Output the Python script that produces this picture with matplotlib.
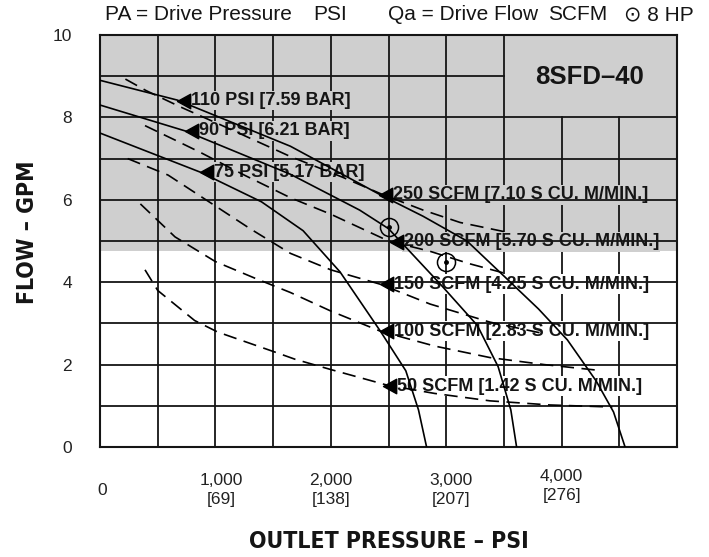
import matplotlib
matplotlib.use("Agg")
import matplotlib.pyplot as plt
from matplotlib import font_manager
from matplotlib.font_manager import FontProperties
from matplotlib.path import Path
from matplotlib.transforms import ScaledTranslation

# drive pressure curves (solid): outlet pressure psi -> flow gpm
p110_psi = [0, 670, 1650, 2430, 2800, 3180, 3500, 3800, 4050, 4300, 4450, 4550]
p110_gpm = [8.9, 8.42, 7.3, 6.12, 5.6, 5.0, 4.15, 3.35, 2.6, 1.6, 0.85, 0]
p90_psi = [0, 740, 1650, 2250, 2500, 2950, 3270, 3450, 3560, 3610]
p90_gpm = [8.3, 7.67, 6.62, 5.75, 5.3, 3.95, 2.95, 1.95, 0.9, 0]
p75_psi = [0, 870, 1400, 1760, 2080, 2430, 2650, 2760, 2830]
p75_gpm = [7.62, 6.67, 5.95, 5.25, 4.25, 2.81, 1.85, 0.9, 0]

# drive air flow curves (dashed)
q250_psi = [220, 400, 700, 1100, 1650, 2100, 2430, 2800, 3120, 3550]
q250_gpm = [8.93, 8.65, 8.25, 7.75, 7.05, 6.55, 6.15, 5.75, 5.45, 5.2]
q200_psi = [390, 650, 870, 1250, 1650, 2000, 2500, 2860, 3200, 3530]
q200_gpm = [7.8, 7.45, 7.15, 6.6, 6.05, 5.65, 5.0, 4.75, 4.45, 4.2]
q150_psi = [240, 590, 1000, 1300, 1650, 2000, 2430, 2860, 3380, 3850]
q150_gpm = [7.0, 6.6, 5.85, 5.3, 4.7, 4.3, 3.95, 3.47, 3.03, 2.75]
q100_psi = [350, 650, 1000, 1340, 1650, 2000, 2430, 2900, 3380, 3850, 4290]
q100_gpm = [5.9, 5.1, 4.5, 4.1, 3.75, 3.3, 2.81, 2.45, 2.17, 2.0, 1.87]
q50_psi = [390, 500, 820, 1020, 1520, 1690, 2000, 2490, 2900, 3380, 3900, 4440]
q50_gpm = [4.3, 3.8, 3.07, 2.79, 2.3, 2.13, 1.88, 1.5, 1.3, 1.12, 1.02, 0.97]

# 8 HP points
hp_psi = [2500, 3000]
hp_gpm = [5.35, 4.48]

# curve labels: arrow tip position and text
label_psi = [670, 740, 870, 2420, 2510, 2430, 2430, 2450]
label_gpm = [8.41, 7.67, 6.67, 6.12, 4.98, 3.95, 2.81, 1.47]
label_text = ["110 PSI [7.59 BAR]", "90 PSI [6.21 BAR]", "75 PSI [5.17 BAR]",
              "250 SCFM [7.10 S CU. M/MIN.]", "200 SCFM [5.70 S CU. M/MIN.]",
              "150 SCFM [4.25 S CU. M/MIN.]", "100 SCFM [2.83 S CU. M/MIN.]",
              "50 SCFM [1.42 S CU. M/MIN.]"]

xtick_vals = [0, 1000, 2000, 3000, 4000]
xtick_text = ["0", "1,000\n[69]", "2,000\n[138]", "3,000\n[207]", "4,000\n[276]"]
ytick_vals = [0, 2, 4, 6, 8, 10]

GREY = "#cfcfcf"
INK = "#151515"
SANS = ["Liberation Sans", "DejaVu Sans"]


def _bold(f):
    w = f.weight
    if isinstance(w, str):
        return w in ("bold", "heavy", "black", "extra bold", "demibold", "semibold")
    return w >= 600


def _narrow(f):
    s = f.stretch
    if isinstance(s, str):
        s_ok = "condensed" in s
    else:
        s_ok = s < 500
    return s_ok or "Narrow" in f.name or "Condensed" in f.name


# bold condensed face for the axis titles, if one is installed
narrow = [f for f in font_manager.fontManager.ttflist if _narrow(f) and _bold(f)
          and f.style == "normal"]
if narrow:
    axis_font = FontProperties(fname=narrow[0].fname, size=16.5)
else:
    axis_font = FontProperties(family="Liberation Sans", weight="bold", size=15.5)

fig = plt.figure(figsize=(7.09, 5.57), dpi=100)
ax = fig.add_axes([100 / 709, 110 / 557, 577 / 709, 412 / 557])
ax.set_xlim(0, 5000)
ax.set_ylim(0, 10)

# shaded upper band
ax.axhspan(4.75, 10, color=GREY, lw=0, zorder=0)

# vertical grid (stops under the model box at top right)
for x in range(500, 5000, 500):
    top = 0.8 if x in (4000, 4500) else 1.0
    ax.axvline(x, ymax=top, color=INK, lw=1.3, zorder=1)
# horizontal grid drawn over the labels
for y in range(1, 10):
    right = 0.7 if y == 9 else 1.0
    ax.axhline(y, xmax=right, color=INK, lw=1.3, zorder=3)

solid = [(p110_psi, p110_gpm), (p90_psi, p90_gpm), (p75_psi, p75_gpm)]
for xs, ys in solid:
    ax.plot(xs, ys, color="k", lw=1.2, zorder=4)
dashed = [(q250_psi, q250_gpm), (q200_psi, q200_gpm), (q150_psi, q150_gpm),
          (q100_psi, q100_gpm), (q50_psi, q50_gpm)]
for xs, ys in dashed:
    ax.plot(xs, ys, color="k", lw=1.2, dashes=(8, 4.5), zorder=4)

# arrow heads with the tip on the data point
tri = Path([(0, 0), (1, 0.55), (1, -0.55), (0, 0)],
           [Path.MOVETO, Path.LINETO, Path.LINETO, Path.CLOSEPOLY])
for x, y, s in zip(label_psi, label_gpm, label_text):
    bg = GREY if y > 4.75 else "white"
    ax.plot(x, y, marker=tri, ms=19, color="k", zorder=5)
    ax.annotate(s, (x, y), xytext=(14, 0), textcoords="offset pixels",
                ha="left", va="center", fontsize=13, fontweight="bold",
                family=SANS, color=INK, zorder=2,
                bbox=dict(boxstyle="square,pad=0.08", fc=bg, ec="none"))

ax.plot(hp_psi, hp_gpm, "o", ms=13, mfc="none", mec="k", mew=1.1, zorder=5)
ax.plot(hp_psi, hp_gpm, "o", ms=2.5, color="k", zorder=5)

ax.text(4240, 8.98, "8SFD\u201340", ha="center", va="center", fontsize=18.5,
        fontweight="bold", family=SANS, color=INK, zorder=5)

for sp in ax.spines.values():
    sp.set_linewidth(1.5)
    sp.set_color(INK)

ax.set_xticks(xtick_vals)
ax.set_xticklabels(xtick_text, fontsize=12.5, family=SANS, color="#222222",
                   linespacing=1.3)
ax.set_yticks(ytick_vals)
ax.set_yticklabels([str(v) for v in ytick_vals], fontsize=12.5, family=SANS,
                   color="#222222")
ax.tick_params(axis="x", length=0, pad=31)
ax.tick_params(axis="y", length=0, pad=20)
shifts = [(2, 0), (6, 0), (0, 0), (5, 0), (0, 4)]
for lbl, (dx, dy) in zip(ax.get_xticklabels(), shifts):
    lbl.set_va("center")
    lbl.set_transform(lbl.get_transform()
                      + ScaledTranslation(dx / 100, dy / 100, fig.dpi_scale_trans))

# header line, word groups placed along the top
head = [(105, "PA = Drive Pressure"), (313, "PSI"), (388, "Qa = Drive Flow"),
        (548, "SCFM"), (624, "\u2299 8 HP")]
for px, s in head:
    fig.text(px / 709, 1 - 15 / 557, s, ha="left", va="center", fontsize=15,
             family=SANS, color=INK)

fig.text(389 / 709, 16 / 557, "OUTLET PRESSURE \u2013 PSI", ha="center",
         va="center", fontproperties=axis_font, color=INK)
fig.text(27 / 709, 1 - 232 / 557, "FLOW \u2013 GPM", ha="center", va="center",
         rotation=90, fontproperties=axis_font, color=INK)

fig.savefig("out.png", dpi=100)
